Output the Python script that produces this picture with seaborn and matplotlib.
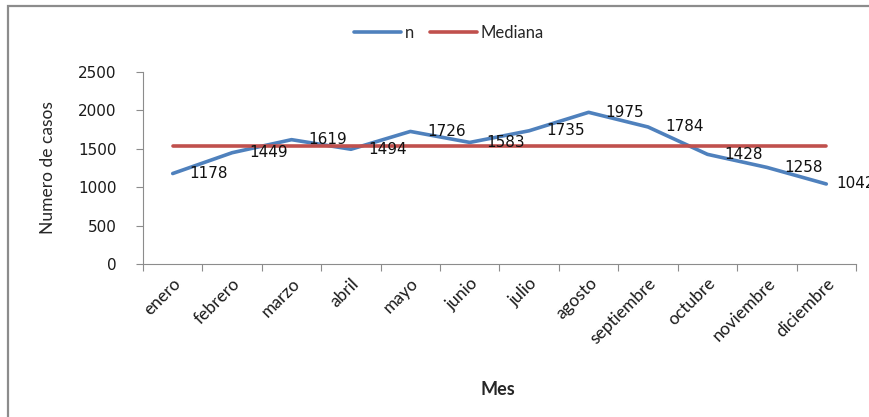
import numpy as np
import pandas as pd
import seaborn as sns
import matplotlib.pyplot as plt
from matplotlib.patches import Rectangle
from matplotlib.lines import Line2D

meses = ["enero", "febrero", "marzo", "abril", "mayo", "junio", "julio",
         "agosto", "septiembre", "octubre", "noviembre", "diciembre"]
casos = [1178, 1449, 1619, 1494, 1726, 1583, 1735, 1975, 1784, 1428, 1258, 1042]
y_ticks = [0, 500, 1000, 1500, 2000, 2500]

mediana = float(np.median(casos))

df = pd.DataFrame({
    "Mes": meses * 2,
    "valor": casos + [mediana] * len(meses),
    "serie": ["n"] * len(meses) + ["Mediana"] * len(meses),
})

sns.set_theme(style="white")
plt.rcParams["font.family"] = ["DejaVu Sans"]

fig = plt.figure(figsize=(8.7, 4.17), dpi=100)
W, H = 870, 417
ax = fig.add_axes([143 / W, (H - 264) / H, (856 - 143) / W, (264 - 72) / H])

palette = {"n": "#4F81BD", "Mediana": "#C0504D"}
sns.lineplot(data=df, x="Mes", y="valor", hue="serie", hue_order=["n", "Mediana"],
             palette=palette, linewidth=2.6, sort=False, ax=ax, legend=False)

ax.set_xlim(-0.5, len(meses) - 0.5)
ax.set_ylim(0, 2500)
ax.set_yticks(y_ticks)
ax.set_yticklabels([str(v) for v in y_ticks], fontsize=11, color="#1a1a1a")

ax.set_xticks(range(len(meses)))
ax.set_xticklabels(meses, rotation=45, ha="right", rotation_mode="anchor",
                   fontsize=12.5, family="Lato", color="#1a1a1a")
ax.set_xticks(np.arange(-0.5, len(meses)), minor=True)
ax.tick_params(axis="x", which="major", length=0, pad=8)
ax.tick_params(axis="x", which="minor", length=5, color="#8c8c8c", width=0.8,
               direction="out", bottom=True)
ax.tick_params(axis="y", length=5, color="#8c8c8c", width=0.8, direction="out",
               left=True, pad=14)

for side in ["top", "right"]:
    ax.spines[side].set_visible(False)
for side in ["left", "bottom"]:
    ax.spines[side].set_color("#8c8c8c")
    ax.spines[side].set_linewidth(0.8)

# value labels to the right of each point (last one pulled in near the edge)
for i, v in enumerate(casos):
    dx = 10 if i == len(casos) - 1 else 17
    ax.annotate(str(v), (i, v), xytext=(dx, 0), textcoords="offset pixels",
                ha="left", va="center", fontsize=11, color="#111111",
                annotation_clip=False)

ax.set_xlabel("Mes", fontsize=13, fontweight="bold", family="Lato")
ax.xaxis.set_label_coords((498 - 143) / (856 - 143), -(381 - 264) / (264 - 72))
ax.set_ylabel("Numero de casos", fontsize=12.5, family="Lato")
ax.yaxis.set_label_coords(-(143 - 56) / (856 - 143), 0.5)

# legend
handles = [Line2D([], [], color=palette["n"], lw=2.6),
           Line2D([], [], color=palette["Mediana"], lw=2.6)]
fig.legend(handles, ["n", "Mediana"], loc="center", bbox_to_anchor=(449 / W, 1 - 33 / H),
           ncol=2, frameon=False, handlelength=2.8, handletextpad=0.2,
           columnspacing=1.0, prop={"family": "Lato", "size": 12})

# outer frame
fig.patches.append(Rectangle((8 / W, -0.05), 1.0, 1 - 6 / H + 0.05,
                             transform=fig.transFigure, fill=False,
                             edgecolor="#8c8c8c", linewidth=1.6))

fig.savefig("out.png", dpi=100)
